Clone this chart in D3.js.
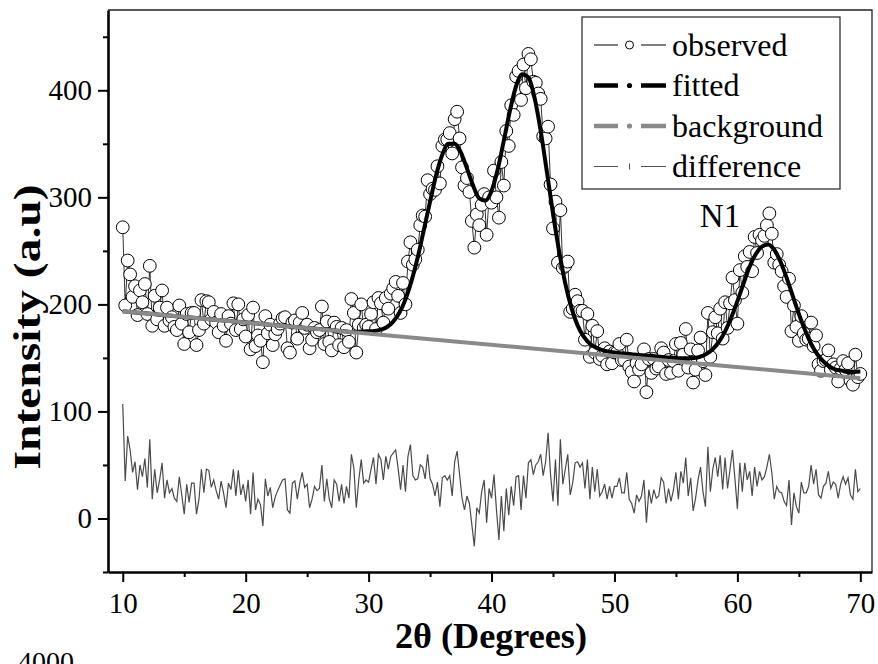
<!DOCTYPE html>
<html>
<head>
<meta charset="utf-8">
<style>
    html, body { margin: 0; padding: 0; background: #fff; }
    #plot-xrd { width: 878px; height: 664px; }
</style>
</head>
<body>
<div id="plot-xrd"></div>
<script src="https://d3js.org/d3.v7.min.js"></script>
<script>
// XRD pattern N1: observed scan, fitted profile, linear background and
// difference curve (observed - fitted, shifted up by 30 for display).

// Scan grid of the observed / difference series (deg 2θ)
var scanStart = 10;
var scanStep = 0.2;

var observed = [
    272, 199, 241, 228, 207, 217, 190, 213, 202, 219,
    191, 236, 180, 208, 186, 197, 213, 180, 197, 185,
    188, 179, 176, 199, 182, 163, 191, 174, 192, 192,
    162, 176, 204, 182, 203, 202, 186, 193, 183, 174,
    191, 180, 166, 189, 182, 201, 176, 200, 177, 186,
    170, 190, 158, 197, 161, 171, 166, 146, 189, 173,
    181, 162, 172, 177, 182, 187, 188, 159, 155, 183,
    185, 168, 183, 192, 178, 181, 159, 167, 178, 174,
    176, 198, 163, 184, 165,
    157, 183, 179, 162, 178, 160, 176, 165, 205, 192,
    155, 181, 200, 178, 181, 179, 191, 202, 177, 206,
    201, 183, 206, 196, 210, 215, 221, 208, 192, 220,
    200, 240, 258, 237, 242, 251, 274, 283, 282, 316,
    303, 308, 307, 329, 313, 348, 354, 354, 360, 341,
    373, 380, 355, 328, 311, 318, 305, 278, 253, 284,
    274, 293, 303, 265, 300, 295, 325, 300, 281, 333,
    311, 362, 348, 386, 377, 413, 418, 391, 424, 402,
    434, 429, 408, 407, 397, 392, 357, 355, 366, 312,
    271, 296, 239, 288,
    234, 236, 240, 193, 196, 209, 203, 194, 194, 167,
    191, 151, 180, 155, 175, 149, 152, 159, 144, 156,
    145, 155, 155, 163, 148, 148, 167, 142, 137, 128,
    145, 139, 144, 158, 118, 149, 136, 149, 140, 142,
    159, 155, 135, 148, 136, 147, 163, 138, 164, 153,
    177, 141, 158, 127, 139, 157, 169, 147, 134, 192,
    151, 174, 188, 173, 196, 168, 202, 178, 201, 225,
    204, 182, 232, 211, 245, 235, 249, 231, 263, 248,
    265, 260, 264, 274, 285, 266, 239, 247, 237, 231,
    217, 207, 224, 175, 199, 179, 166, 189, 173, 167,
    168, 183, 161, 171, 144, 138, 147, 148, 157, 139,
    144, 141, 128, 140, 147, 139, 145, 129, 125, 153,
    132, 135
];

var difference = [
    107, 35, 77, 64, 43, 53, 27, 50, 39, 56,
    29, 74, 18, 46, 24, 36, 52, 19, 36, 24,
    28, 19, 16, 39, 22, 4, 32, 15, 33, 33,
    4, 18, 46, 24, 46, 45, 29, 36, 26, 18,
    35, 24, 10, 33, 27, 46, 21, 45, 22, 32,
    16, 36, 4, 43, 8, 18, 13, -7, 37, 21,
    29, 10, 20, 26, 31, 36, 37, 8, 5, 33,
    35, 18, 33, 43, 29, 32, 10, 18, 30, 26,
    28, 50, 16, 37, 18,
    10, 36, 32, 16, 32, 14, 30, 19, 60, 47,
    10, 36, 55, 33, 36, 34, 46, 57, 32, 60,
    55, 36, 58, 46, 58, 61, 64, 47, 27, 50,
    25, 58, 69, 40, 36, 37, 50, 48, 37, 60,
    37, 32, 21, 34, 11, 38, 40, 36, 40, 21,
    53, 63, 41, 19, 8, 21, 14, -6, -26, 10,
    5, 25, 36, -4, 28, 19, 41, 8, -20, 21,
    -12, 28, 3, 30, 12, 39, 40, 8, 40, 19,
    52, 55, 41, 50, 53, 60, 40, 53, 80, 41,
    16, 55, 12, 74,
    32, 46, 60, 22, 33, 52, 53, 48, 52, 28,
    55, 18, 48, 25, 46, 21, 25, 32, 18, 30,
    19, 30, 30, 38, 24, 24, 43, 18, 14, 5,
    22, 16, 21, 36, -4, 27, 14, 27, 19, 21,
    38, 34, 14, 28, 16, 27, 43, 18, 44, 33,
    57, 21, 38, 7, 19, 36, 48, 25, 11, 67,
    25, 46, 57, 39, 59, 27, 57, 28, 46, 64,
    37, 9, 52, 25, 52, 36, 44, 21, 48, 30,
    44, 36, 39, 48, 60, 43, 18, 30, 25, 24,
    16, 12, 36, -6, 24, 11, 5, 34, 24, 24,
    30, 50, 32, 46, 22, 19, 30, 33, 44, 28,
    34, 32, 19, 32, 39, 32, 38, 22, 18, 46,
    25, 28
];

// Fitted profile, sampled every 0.5 deg from 10 to 70
var fitStart = 10;
var fitStep = 0.5;
var fitted = [
    193.5, 193.0, 192.5, 191.9, 191.4, 190.9, 190.4, 189.9, 189.3, 188.8,
    188.3, 187.8, 187.3, 186.7, 186.2, 185.7, 185.2, 184.7, 184.1, 183.6,
    183.1, 182.6, 182.1, 181.5, 181.0, 180.5, 180.0, 179.5, 178.9, 178.4,
    177.9, 177.4, 176.9, 176.3, 175.8, 175.3, 174.8, 174.3, 174.5, 174.6,
    174.9, 175.2, 176.4, 178.9, 183.9, 192.1, 204.7, 222.3, 244, 270,
    296, 321, 340, 350, 350, 342, 327, 311, 299, 297,
    306, 326, 353, 381, 404, 415, 412, 393, 362, 324,
    285, 249.6, 219.5, 196.7, 180.4, 169.8, 163.3, 159.6, 157.3, 156,
    155.1, 154.4, 153.9, 153.3, 152.8, 152.3, 151.8, 151.3, 150.7, 150.2,
    149.9, 149.6, 149.6, 149.9, 151.2, 153.8, 158.2, 165.1, 174.8, 187.7,
    203, 219.5, 235.4, 247, 254, 256, 251, 240, 225, 208,
    191, 176, 163, 153.4, 146.6, 142, 139, 138.1, 136.8, 136.9,
    137.2
];

// Linear background, end points
var backgroundAngle = [10, 70];
var backgroundIntensity = [193.5, 131.1];

var xMajorTicks = [10, 20, 30, 40, 50, 60, 70];
var xMinorTicks = [15, 25, 35, 45, 55, 65];
var yMajorTicks = [0, 100, 200, 300, 400];
var yMinorTicks = [-50, 50, 150, 250, 350, 450];

var legendLabels = ['observed', 'fitted', 'background', 'difference'];

(function () {
    var sel = '#plot-xrd';
    var serif = '"Liberation Serif", "Times New Roman", Times, serif';
    var W = 878, H = 664;
    var frame = { left: 108, right: 872, top: 10, bottom: 572 };

    var x = d3.scaleLinear().domain([8.8, 70.95]).range([frame.left, frame.right]);
    var y = d3.scaleLinear().domain([-50, 475]).range([frame.bottom, frame.top]);

    var svg = d3.select(sel).append('svg')
        .attr('width', W).attr('height', H)
        .attr('viewBox', '0 0 ' + W + ' ' + H)
        .style('font-family', serif);

    // Thin top / right frame
    svg.append('path')
        .attr('d', 'M' + frame.left + ',' + frame.top + 'H' + frame.right + 'V' + frame.bottom)
        .attr('fill', 'none').attr('stroke', '#222').attr('stroke-width', 1.3);

    var scanX = function (i) { return scanStart + i * scanStep; };
    var fitX = function (i) { return fitStart + i * fitStep; };

    var plot = svg.append('g');

    // Observed: thin connecting line, then open circles
    plot.append('path')
        .datum(observed)
        .attr('d', d3.line()
            .x(function (d, i) { return x(scanX(i)); })
            .y(function (d) { return y(d); }))
        .attr('fill', 'none').attr('stroke', '#000').attr('stroke-width', 0.8);

    plot.append('g').selectAll('circle')
        .data(observed)
        .join('circle')
        .attr('cx', function (d, i) { return x(scanX(i)); })
        .attr('cy', function (d) { return y(d); })
        .attr('r', 6.4)
        .attr('fill', '#fff')
        .attr('stroke', '#000').attr('stroke-width', 1);

    // Fitted profile
    plot.append('path')
        .datum(fitted)
        .attr('d', d3.line()
            .x(function (d, i) { return x(fitX(i)); })
            .y(function (d) { return y(d); })
            .curve(d3.curveMonotoneX))
        .attr('fill', 'none').attr('stroke', '#000').attr('stroke-width', 4);

    // Background line
    plot.append('path')
        .datum(backgroundAngle)
        .attr('d', d3.line()
            .x(function (d) { return x(d); })
            .y(function (d, i) { return y(backgroundIntensity[i]); }))
        .attr('fill', 'none').attr('stroke', '#8a8a8a').attr('stroke-width', 4);

    // Difference curve
    plot.append('path')
        .datum(difference)
        .attr('d', d3.line()
            .x(function (d, i) { return x(scanX(i)); })
            .y(function (d) { return y(d); }))
        .attr('fill', 'none').attr('stroke', '#4a4a4a').attr('stroke-width', 1.2);

    // Axes: thick left / bottom, ticks outward
    function styleAxis(ax, domainWidth) {
        ax.select('.domain').attr('stroke', '#000').attr('stroke-width', domainWidth);
        ax.selectAll('.tick line').attr('stroke', '#000').attr('stroke-width', 2);
        ax.selectAll('.tick text')
            .attr('fill', '#000')
            .attr('font-family', serif)
            .attr('font-size', 29);
    }

    var xAxisG = svg.append('g')
        .attr('transform', 'translate(0,' + frame.bottom + ')')
        .call(d3.axisBottom(x).tickValues(xMajorTicks).tickSize(10)
            .tickSizeOuter(0).tickPadding(10).tickFormat(d3.format('d')));
    styleAxis(xAxisG, 2.6);
    var xMinorG = svg.append('g')
        .attr('transform', 'translate(0,' + frame.bottom + ')')
        .call(d3.axisBottom(x).tickValues(xMinorTicks).tickSize(5).tickFormat(''));
    xMinorG.select('.domain').remove();
    styleAxis(xMinorG, 0);

    var yAxisG = svg.append('g')
        .attr('transform', 'translate(' + frame.left + ',0)')
        .call(d3.axisLeft(y).tickValues(yMajorTicks).tickSize(10)
            .tickSizeOuter(0).tickPadding(6).tickFormat(d3.format('d')));
    styleAxis(yAxisG, 2.6);
    var yMinorG = svg.append('g')
        .attr('transform', 'translate(' + frame.left + ',0)')
        .call(d3.axisLeft(y).tickValues(yMinorTicks).tickSize(5).tickFormat(''));
    yMinorG.select('.domain').remove();
    styleAxis(yMinorG, 0);

    // Axis titles
    svg.append('text')
        .attr('x', 491).attr('y', 648)
        .attr('text-anchor', 'middle')
        .attr('font-size', 35).attr('font-weight', 'bold')
        .attr('textLength', 192).attr('lengthAdjust', 'spacingAndGlyphs')
        .text('2θ (Degrees)');
    svg.append('text')
        .attr('transform', 'translate(40,' + 327 + ') rotate(-90)')
        .attr('text-anchor', 'middle')
        .attr('font-size', 38).attr('font-weight', 'bold')
        .attr('textLength', 285).attr('lengthAdjust', 'spacingAndGlyphs')
        .text('Intensity (a.u)');

    // Sample label
    svg.append('text')
        .attr('x', 720).attr('y', 227)
        .attr('text-anchor', 'middle')
        .attr('font-size', 33)
        .text('N1');

    // Legend
    var legendStyle = {
        observed: { color: '#000', width: 1, mark: 'circle' },
        fitted: { color: '#000', width: 4.5, mark: 'dot' },
        background: { color: '#8a8a8a', width: 4.5, mark: 'dot' },
        difference: { color: '#505050', width: 1, mark: 'tick' }
    };
    var lg = svg.append('g');
    lg.append('rect')
        .attr('x', 582).attr('y', 17).attr('width', 258).attr('height', 172)
        .attr('fill', '#fff').attr('stroke', '#333').attr('stroke-width', 1.3);
    legendLabels.forEach(function (name, i) {
        var s = legendStyle[name];
        var cy = 45 + i * 40.5;
        var row = lg.append('g');
        [[594, 618], [641, 666]].forEach(function (seg) {
            row.append('line')
                .attr('x1', seg[0]).attr('x2', seg[1])
                .attr('y1', cy).attr('y2', cy)
                .attr('stroke', s.color).attr('stroke-width', s.width);
        });
        if (s.mark === 'circle') {
            row.append('circle').attr('cx', 629.5).attr('cy', cy).attr('r', 4)
                .attr('fill', '#fff').attr('stroke', '#000').attr('stroke-width', 1);
        } else if (s.mark === 'dot') {
            row.append('circle').attr('cx', 629.5).attr('cy', cy).attr('r', 2.6)
                .attr('fill', s.color);
        } else {
            row.append('line')
                .attr('x1', 629.5).attr('x2', 629.5)
                .attr('y1', cy - 3).attr('y2', cy + 3)
                .attr('stroke', s.color).attr('stroke-width', 1);
        }
        row.append('text')
            .attr('x', 672).attr('y', cy).attr('dy', '0.33em')
            .attr('font-size', 32)
            .text(name);
    });

    // Edge of the next figure's axis label, cut off at the bottom
    svg.append('text')
        .attr('x', 18).attr('y', 671)
        .attr('font-size', 28)
        .text('4000');
})();
</script>
</body>
</html>
